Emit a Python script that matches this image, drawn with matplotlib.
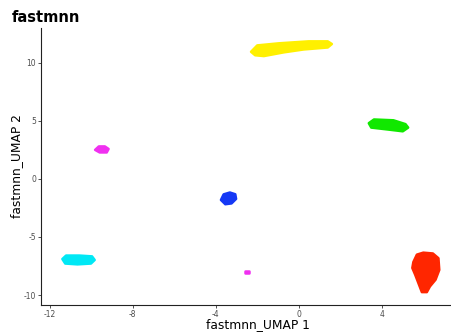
import matplotlib
matplotlib.use("Agg")
import matplotlib.pyplot as plt
from matplotlib.patches import Polygon

# Cluster outlines (data coordinates)
yellow_x = [-2.30, -2.00, -0.96, 0.48, 1.40, 1.60, 1.40, 0.24, -0.72, -1.68, -2.10]
yellow_y = [10.95, 11.50, 11.68, 11.85, 11.85, 11.62, 11.32, 11.15, 10.90, 10.58, 10.65]
green_x = [3.38, 3.63, 4.57, 5.15, 5.28, 5.02, 4.33, 3.50]
green_y = [4.80, 5.12, 5.05, 4.72, 4.42, 4.10, 4.25, 4.42]
red_x = [5.53, 5.70, 6.01, 6.47, 6.74, 6.78, 6.60, 6.33, 6.18, 5.94, 5.80, 5.62, 5.48]
red_y = [-7.16, -6.52, -6.35, -6.42, -6.83, -7.84, -8.68, -9.26, -9.75, -9.75, -9.10, -8.26, -7.67]
blue_x = [-3.75, -3.62, -3.32, -3.06, -3.02, -3.24, -3.54]
blue_y = [-1.81, -1.33, -1.17, -1.32, -1.72, -2.11, -2.18]
magenta_x = [-9.82, -9.64, -9.35, -9.17, -9.26, -9.60]
magenta_y = [2.50, 2.80, 2.80, 2.58, 2.28, 2.28]
cyan_x = [-11.40, -11.22, -10.58, -9.97, -9.84, -10.02, -10.67, -11.26]
cyan_y = [-6.90, -6.60, -6.60, -6.67, -6.98, -7.29, -7.36, -7.29]
small_x = [-2.58, -2.38, -2.38, -2.58]
small_y = [-7.95, -7.95, -8.08, -8.08]

clusters = [
    (yellow_x, yellow_y, "#FFF000"),
    (green_x, green_y, "#11E800"),
    (red_x, red_y, "#FF2600"),
    (blue_x, blue_y, "#1538F5"),
    (magenta_x, magenta_y, "#F030F0"),
    (cyan_x, cyan_y, "#00E8F5"),
    (small_x, small_y, "#F030F0"),
]

x_ticks = [-12, -8, -4, 0, 4]
y_ticks = [-10, -5, 0, 5, 10]

fig = plt.figure(figsize=(4.52, 3.32), dpi=100)
ax = fig.add_axes([0.0907, 0.0813, 0.905, 0.8344])
for xs, ys, c in clusters:
    poly = Polygon(list(zip(xs, ys)), closed=True, facecolor=c, edgecolor=c,
                   linewidth=1.8, joinstyle="round")
    ax.add_patch(poly)

ax.set_xlim(-12.43, 7.3)
ax.set_ylim(-10.86, 13.0)
ax.set_xticks(x_ticks)
ax.set_yticks(y_ticks)
ax.set_xticklabels([str(v) for v in x_ticks])
ax.set_yticklabels([str(v) for v in y_ticks])
ax.tick_params(axis="both", labelsize=5.5, labelcolor="#4d4d4d", length=2.5,
               width=0.6, color="#333333", pad=1.0)
for s in ["top", "right"]:
    ax.spines[s].set_visible(False)
for s in ["left", "bottom"]:
    ax.spines[s].set_linewidth(0.8)
    ax.spines[s].set_color("#222222")

ax.set_xlabel("fastmnn_UMAP 1", fontsize=8.8)
ax.xaxis.set_label_coords(0.53, -0.046, transform=ax.transAxes)
ax.xaxis.label.set_va("top")
ax.set_ylabel("fastmnn_UMAP 2", fontsize=8.8, labelpad=0.5)
fig.text(0.027, 0.948, "fastmnn", fontsize=10.5, fontweight="bold", va="center", ha="left")

fig.savefig("out.png", dpi=100)
